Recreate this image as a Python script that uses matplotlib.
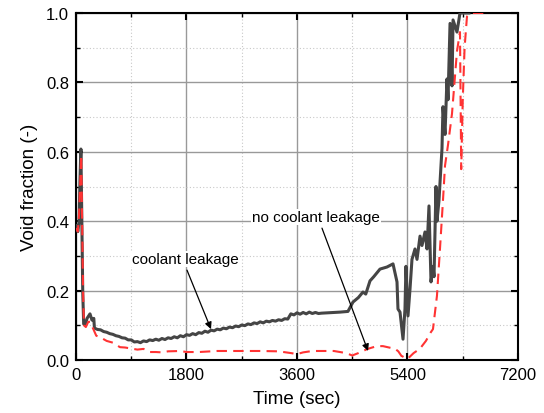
import matplotlib
matplotlib.use("Agg")
import matplotlib.pyplot as plt
from matplotlib.ticker import MultipleLocator

plt.rcParams["font.family"] = ["Liberation Sans", "DejaVu Sans"]

# coolant leakage case (solid dark line)
leak_t = [0, 30, 50, 65, 80, 95, 110, 125, 150, 180, 228, 260, 290,
          300, 350, 400, 450, 500, 550, 600, 650, 700, 750, 800, 850, 900, 950,
          1000, 1050, 1100, 1150, 1200, 1250, 1300, 1350, 1400, 1450, 1500, 1550,
          1600, 1650, 1700, 1750, 1800, 1850, 1900, 1950, 2000, 2050, 2100, 2150,
          2200, 2250, 2300, 2350, 2400, 2450, 2500, 2550, 2600, 2650, 2700, 2750,
          2800, 2850, 2900, 2950, 3000, 3050, 3100, 3150, 3200, 3250, 3300, 3350,
          3400, 3450, 3500, 3550, 3600, 3650, 3700, 3750, 3800, 3850, 3900, 3950,
          4000, 4100, 4200, 4300, 4430, 4512, 4600, 4675, 4720, 4789, 4850, 4952,
          5066, 5164, 5229, 5245, 5278, 5327, 5359, 5375, 5408, 5441, 5473, 5522,
          5555, 5604, 5636, 5685, 5718, 5750, 5783, 5815, 5832, 5864, 5880, 5913,
          5962, 5978, 6011, 6043, 6060, 6093, 6125, 6142, 6206, 6255, 6400]
leak_v = [0.387, 0.37, 0.40, 0.52, 0.608, 0.40, 0.195, 0.104, 0.10, 0.12, 0.133, 0.115, 0.12,
          0.092, 0.088, 0.087, 0.082, 0.080, 0.076, 0.074, 0.070, 0.068, 0.064, 0.063, 0.058, 0.058, 0.052,
          0.053, 0.050, 0.055, 0.053, 0.058, 0.056, 0.060, 0.057, 0.062, 0.059, 0.064, 0.062,
          0.067, 0.064, 0.070, 0.067, 0.073, 0.071, 0.076, 0.073, 0.079, 0.077, 0.083, 0.080,
          0.086, 0.084, 0.089, 0.087, 0.092, 0.090, 0.095, 0.093, 0.098, 0.096, 0.101, 0.099,
          0.104, 0.102, 0.107, 0.105, 0.110, 0.107, 0.112, 0.110, 0.114, 0.112, 0.116, 0.114,
          0.119, 0.118, 0.133, 0.130, 0.136, 0.132, 0.137, 0.133, 0.138, 0.134, 0.137, 0.134,
          0.135, 0.136, 0.137, 0.138, 0.140, 0.167, 0.18, 0.196, 0.19, 0.228, 0.24, 0.262,
          0.268, 0.277, 0.225, 0.147, 0.138, 0.06, 0.147, 0.27, 0.127, 0.205, 0.29, 0.32,
          0.29, 0.357, 0.33, 0.369, 0.32, 0.444, 0.225, 0.27, 0.24, 0.50, 0.40, 0.46,
          0.61, 0.73, 0.65, 0.81, 0.75, 0.97, 0.79, 0.98, 0.945, 1.0, 1.0]

# no coolant leakage case (red dashed line)
noleak_t = [0, 30, 50, 70, 85, 100, 115, 130, 160, 200, 230, 280, 330, 400, 500, 600,
            716, 800, 900, 1000, 1100, 1200, 1300, 1400, 1500, 1700, 1800, 2000, 2300,
            2700, 3000, 3300, 3500, 3600, 3700, 3850, 4000, 4200, 4400, 4500, 4600,
            4750, 4900, 5000, 5100, 5200, 5250, 5300, 5400, 5500, 5600, 5700, 5780,
            5815, 5880, 5929, 5978, 6011, 6060, 6125, 6206, 6255, 6275, 6300, 6330,
            6369, 6450, 6660]
noleak_v = [0.38, 0.37, 0.42, 0.52, 0.59, 0.40, 0.20, 0.10, 0.095, 0.11, 0.11, 0.09, 0.07, 0.065, 0.055, 0.05,
            0.037, 0.036, 0.033, 0.030, 0.032, 0.023, 0.023, 0.022, 0.025, 0.026, 0.023, 0.023, 0.026,
            0.026, 0.026, 0.025, 0.020, 0.017, 0.022, 0.026, 0.026, 0.026, 0.020, 0.013, 0.020,
            0.032, 0.040, 0.040, 0.036, 0.032, 0.025, 0.012, 0.003, 0.020, 0.032, 0.055, 0.080,
            0.089, 0.185, 0.32, 0.46, 0.56, 0.62, 0.71, 0.89, 0.945, 0.55, 0.75, 0.90,
            0.99, 1.0, 1.0]

x_ticks = [0, 1800, 3600, 5400, 7200]
y_ticks = [0.0, 0.2, 0.4, 0.6, 0.8, 1.0]

fig = plt.figure(figsize=(5.44, 4.14), dpi=100)
ax = fig.add_axes([0.1397, 0.128, 0.8125, 0.8382])

ax.plot(leak_t, leak_v, color="#454545", lw=2.2, zorder=3)
ax.plot(noleak_t, noleak_v, color="#ff3333", lw=1.5, ls=(0, (5, 3)), zorder=3)

ax.set_xlim(0, 7200)
ax.set_ylim(0, 1.0)
ax.set_xticks(x_ticks)
ax.set_yticks(y_ticks)
ax.set_yticklabels([f"{v:.1f}" for v in y_ticks])
ax.xaxis.set_minor_locator(MultipleLocator(900))
ax.yaxis.set_minor_locator(MultipleLocator(0.1))

ax.grid(which="major", color="#999999", lw=1.0, ls="-")
ax.grid(which="minor", color="#c8c8c8", lw=0.8, ls=(0, (1, 2)))
ax.set_axisbelow(True)

ax.tick_params(which="both", direction="in", top=True, right=True, labelsize=12, pad=5)
ax.tick_params(which="major", length=5, width=1.5)
ax.tick_params(which="minor", length=3, width=1.0)
for s in ax.spines.values():
    s.set_linewidth(1.5)

ax.set_xlabel("Time (sec)", fontsize=13.5, labelpad=6)
ax.set_ylabel("Void fraction (-)", fontsize=13.5, labelpad=6)

ax.text(1776, 0.291, "coolant leakage", fontsize=11, ha="center", va="center",
        bbox=dict(facecolor="white", edgecolor="none", pad=1), zorder=4)
ax.text(3910, 0.412, "no coolant leakage", fontsize=11, ha="center", va="center",
        bbox=dict(facecolor="white", edgecolor="none", pad=1), zorder=4)

arrow = dict(arrowstyle="-|>", color="black", lw=0.9, mutation_scale=10, shrinkA=0, shrinkB=0)
ax.annotate("", xy=(2199, 0.089), xytext=(1808, 0.259), arrowprops=arrow, zorder=5)
ax.annotate("", xy=(4757, 0.026), xytext=(4007, 0.38), arrowprops=arrow, zorder=5)

fig.savefig("out.png", dpi=100)
